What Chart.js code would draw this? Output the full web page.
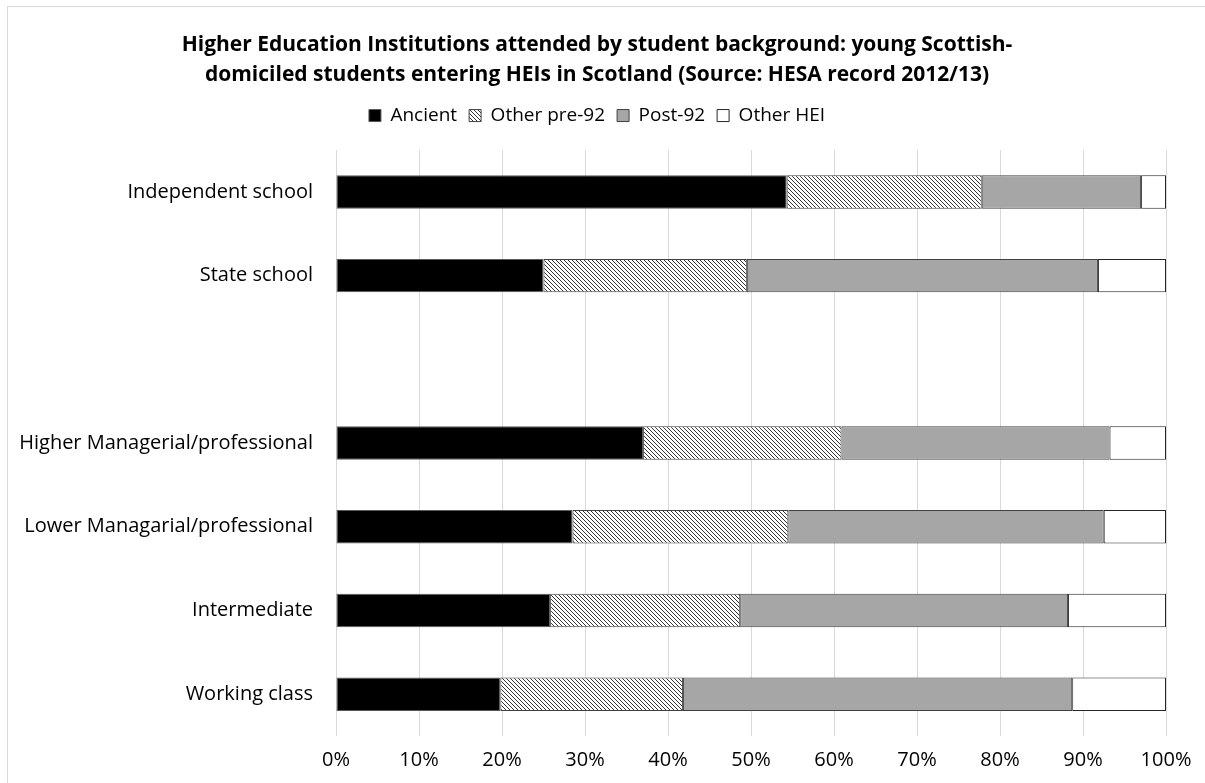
<!DOCTYPE html>
<html>
<head>
<meta charset="utf-8">
<script src="https://cdn.jsdelivr.net/npm/chart.js@4.4.0/dist/chart.umd.min.js"></script>
<style>
  html, body { margin: 0; padding: 0; background: #fff; overflow: hidden; }
  #wrap { position: relative; width: 1205px; height: 783px; }
  #frame { position: absolute; left: 7px; top: 6px; width: 1300px; height: 900px;
           border-top: 1px solid #d9d9d9; border-left: 1px solid #d9d9d9; }
  canvas { position: absolute; left: 0; top: 0; }
</style>
</head>
<body>
<div id="wrap">
  <div id="frame"></div>
  <canvas id="myChart" width="1205" height="783"></canvas>
</div>
<script>
// categories (the blank one is the gap between school type and class rows)
let categories = ["Independent school", "State school", "", "Higher Managerial/professional",
  "Lower Managarial/professional", "Intermediate", "Working class"];

// percentages
let ancient     = [54.3, 25.0, null, 37.0, 28.5, 25.8, 19.8];
let other_pre92 = [23.5, 24.5, null, 23.9, 26.0, 22.9, 22.0];
let post92      = [19.2, 42.3, null, 32.3, 38.0, 39.5, 46.9];
let other_hei   = [3.0, 8.2, null, 6.8, 7.5, 11.8, 11.3];

let x_ticks = [0, 10, 20, 30, 40, 50, 60, 70, 80, 90, 100];

let title_lines = ["Higher Education Institutions attended by student background: young Scottish-",
  "domiciled students entering HEIs in Scotland (Source: HESA record 2012/13)"];

// hatch for "Other pre-92"
function make_hatch() {
  let c = document.createElement("canvas");
  c.width = 4;
  c.height = 4;
  let g = c.getContext("2d");
  g.fillStyle = "#fff";
  g.fillRect(0, 0, 4, 4);
  g.strokeStyle = "#333";
  g.lineWidth = 1;
  g.beginPath();
  g.moveTo(0, 0); g.lineTo(4, 4);
  g.moveTo(-1, 3); g.lineTo(1, 5);
  g.moveTo(3, -1); g.lineTo(5, 1);
  g.stroke();
  return g.createPattern(c, "repeat");
}

let hatch = make_hatch();
let font_name = "'Open Sans', sans-serif";

function bar_set(label, data, fill, border) {
  return {
    label: label,
    data: data,
    backgroundColor: fill,
    borderColor: border,
    borderWidth: 1,
    borderSkipped: false,
    barPercentage: 0.4,
    categoryPercentage: 1.0,
    xAxisID: "x",
    yAxisID: "y"
  };
}

// push the plot down a bit below the legend
let legend_gap = {
  id: "legend_gap",
  afterInit: function (chart) {
    let fit = chart.legend.fit;
    chart.legend.fit = function () {
      fit.call(this);
      this.height += 15;
    };
  }
};

new Chart("myChart", {
  type: "bar",
  data: {
    labels: categories,
    datasets: [
      bar_set("Ancient", ancient, "#000000", "#595959"),
      bar_set("Other pre-92", other_pre92, hatch, "#404040"),
      bar_set("Post-92", post92, "#a6a6a6", "#404040"),
      bar_set("Other HEI", other_hei, "#ffffff", "#262626")
    ]
  },
  plugins: [legend_gap],
  options: {
    indexAxis: "y",
    responsive: false,
    animation: false,
    layout: { padding: { left: 0, right: 11, top: 0, bottom: 12 } },
    plugins: {
      title: {
        display: true,
        text: title_lines,
        color: "#000",
        font: { family: font_name, size: 21, weight: "bold", lineHeight: 1.43 },
        padding: { top: 30, bottom: 4 }
      },
      legend: {
        display: true,
        labels: {
          color: "#000",
          font: { family: font_name, size: 19 },
          boxWidth: 12,
          boxHeight: 12,
          padding: 12,
          useBorderRadius: false
        }
      },
      tooltip: { enabled: false }
    },
    scales: {
      x: {
        stacked: true,
        min: 0,
        max: 100,
        afterBuildTicks: function (axis) {
          axis.ticks = x_ticks.map(function (v) { return { value: v }; });
        },
        afterFit: function (axis) { axis.height = 35; },
        ticks: {
          color: "#000",
          font: { family: font_name, size: 20 },
          padding: 12,
          maxRotation: 0,
          callback: function (v) { return v + "%"; }
        },
        grid: { color: "#d9d9d9", drawTicks: false },
        border: { display: false }
      },
      y: {
        stacked: true,
        position: "left",
        afterFit: function (axis) { axis.width = 336; },
        ticks: {
          color: "#000",
          font: { family: font_name, size: 20 },
          padding: 23
        },
        grid: { display: false, drawTicks: false },
        border: { display: false }
      },
      // empty right-hand strip so "100%" has room
      y2: {
        type: "linear",
        position: "right",
        afterFit: function (axis) { axis.width = 28; },
        ticks: { display: false },
        grid: { display: false, drawTicks: false },
        border: { display: false }
      }
    }
  }
});
</script>
</body>
</html>
